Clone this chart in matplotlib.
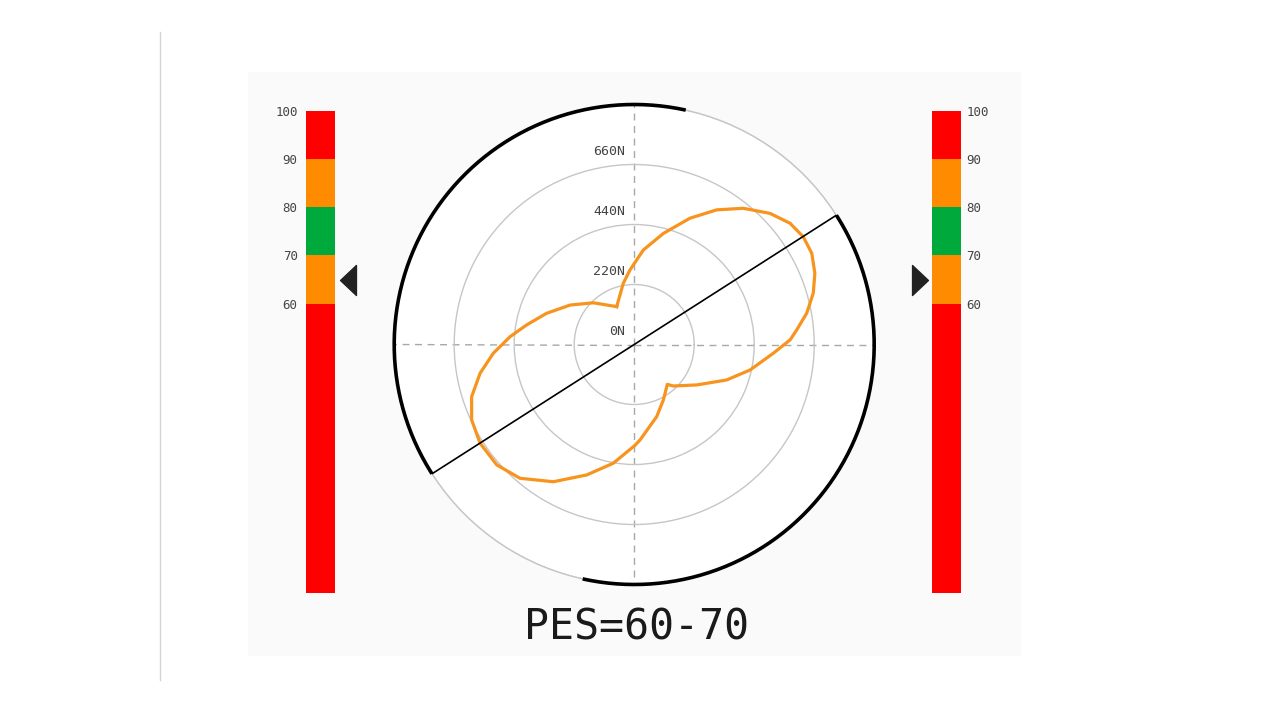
import numpy as np
import matplotlib.pyplot as plt
import matplotlib.transforms as mtransforms
from matplotlib.patches import Rectangle
from matplotlib.lines import Line2D
from matplotlib.path import Path

plt.rcParams['font.family'] = ['DejaVu Sans Mono', 'DejaVu Sans']

# force curve (angle in degrees, force in N)
angle_deg = [114.8, 134.4, 148.4, 160.4, 169.7, 176.4, 183.6, 190.6, 197.8, 204.9,
             212.6, 221.2, 229.5, 239.5, 250.0, 260.0, 270.4, 273.6, 287.3, 297.7,
             309.7, 313.3, 327.1, 339.0, 347.6, 356.4, 361.7, 365.1, 370.3, 376.0,
             381.5, 387.2, 392.5, 397.9, 404.0, 411.3, 418.5, 426.2, 435.3, 444.5,
             453.2, 460.1, 474.8]
force_n = [-67, -6, 56, 121, 181, 236, 298, 355, 406, 437,
           451, 450, 425, 364, 289, 222, 150, 130, 57, 10,
           -30, -11, 53, 143, 215, 291, 352, 378, 423, 463,
           492, 512, 515, 504, 472, 420, 359, 286, 201, 128,
           54, 8, -67]

ring_values = [0, 220, 440, 660]
ring_labels = ['0N', '220N', '440N', '660N']
r_min = -220

# principal direction and the two highlighted arcs (degrees)
axis_angle = 32.6
arc_span = 135.0

# PES scale
levels = [0, 60, 70, 80, 90, 100]
level_colors = ['#ff0000', '#ff8c00', '#00a93c', '#ff8c00', '#ff0000']
scale_ticks = [60, 70, 80, 90, 100]
pes_low, pes_high = 60, 70
W, H = 1268, 713

fig = plt.figure(figsize=(W / 100, H / 100), dpi=100)
fig.patch.set_facecolor('white')

# faint panel and left rule
fig.patches.append(Rectangle((248 / W, 1 - 655 / H), (1020 - 248) / W, (655 - 72) / H,
                             transform=fig.transFigure, color='#fafafa', zorder=-5))
fig.lines.append(Line2D([160 / W, 160 / W], [1 - 32 / H, 1 - 680 / H],
                        transform=fig.transFigure, color='#d4d4d4', lw=1, zorder=-5))

# polar plot
pax = fig.add_axes([394.2 / W, 1 - 584.5 / H, 480 / W, 480 / H], projection='polar')
pax.set_facecolor('white')
pax.set_rlim(r_min, ring_values[-1])
pax.set_rticks(ring_values)
pax.set_yticklabels([])
pax.set_xticks(np.deg2rad([0, 90, 180, 270]))
pax.set_xticklabels([])
pax.yaxis.grid(True, color='#c6c6c6', lw=1.0, ls='-')
pax.xaxis.grid(True, color='#a8a8a8', lw=1.0, ls=(0, (5, 4)))
pax.spines['polar'].set_color('#c6c6c6')
pax.spines['polar'].set_linewidth(1.0)

off = mtransforms.offset_copy(pax.transData, fig=fig, x=-9, y=-47, units='dots')
for v, lab in zip(ring_values, ring_labels):
    pax.text(np.pi / 2, v, lab, transform=off, ha='right', va='center',
             fontsize=9.5, color='#444444')

pax.plot(np.deg2rad(angle_deg), force_n, color='#f7941d', lw=2.3, zorder=4)

a = np.deg2rad(axis_angle)
pax.plot([a, a + np.pi], [ring_values[-1], ring_values[-1]], color='black', lw=1.2, zorder=5)
for start in (axis_angle, axis_angle + 180):
    th = np.deg2rad(np.linspace(start - arc_span, start, 200))
    pax.plot(th, np.full_like(th, ring_values[-1]), color='black', lw=2.6,
             solid_capstyle='butt', zorder=5, clip_on=False)

# PES scale bars
tri_left = Path([(-0.53, 0), (0.53, 1), (0.53, -1), (-0.53, 0)],
                [Path.MOVETO, Path.LINETO, Path.LINETO, Path.CLOSEPOLY])
tri_right = Path([(0.53, 0), (-0.53, 1), (-0.53, -1), (0.53, 0)],
                 [Path.MOVETO, Path.LINETO, Path.LINETO, Path.CLOSEPOLY])

for x0, side, marker, mx in [(306, 'left', tri_left, 1.459), (932, 'right', tri_right, -0.431)]:
    bax = fig.add_axes([x0 / W, 1 - 593 / H, 29 / W, 482.3 / H])
    bax.bar(np.zeros(len(level_colors)), np.diff(levels), bottom=levels[:-1],
            width=1.0, color=level_colors, edgecolor='none')
    bax.set_xlim(-0.5, 0.5)
    bax.set_ylim(levels[0], levels[-1])
    bax.set_xticks([])
    bax.set_yticks(scale_ticks)
    bax.yaxis.set_ticks_position(side)
    bax.tick_params(axis='y', length=0, pad=6 if side == 'left' else 4,
                    labelsize=9, labelcolor='#444444')
    for s in bax.spines.values():
        s.set_visible(False)
    bax.patch.set_alpha(0)
    bax.plot([mx], [(pes_low + pes_high) / 2], marker=marker, markersize=21.6,
             color='#222222', transform=bax.get_yaxis_transform(), clip_on=False)

fig.text(636 / W, 1 - 628 / H, f'PES={pes_low}-{pes_high}', ha='center', va='center',
         fontsize=30, color='#1a1a1a')

fig.savefig('out.png', dpi=100)
